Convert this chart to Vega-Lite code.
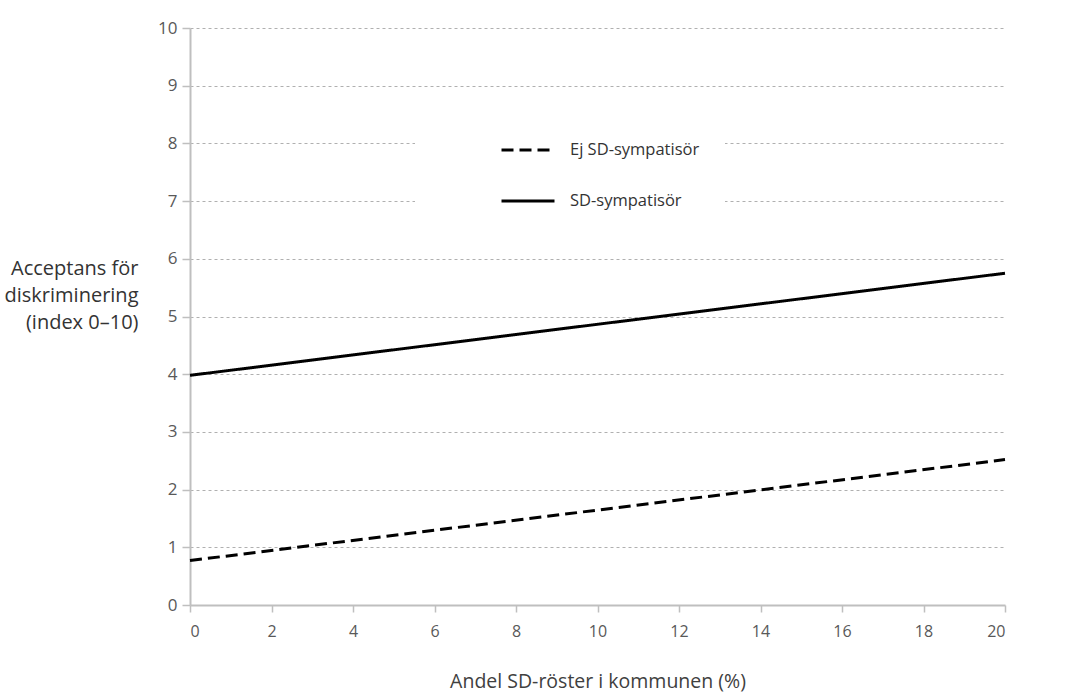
{
  "$schema": "https://vega.github.io/schema/vega-lite/v6.json",
  "width": 815,
  "height": 577,
  "autosize": {"type": "none"},
  "padding": {"left": 190, "top": 28, "right": 63, "bottom": 90},
  "background": "white",
  "config": {
    "view": {"stroke": null},
    "font": "Open Sans"
  },
  "data": {
    "values": [
      {"andel": 0, "acceptans": 0.77, "grupp": "Ej SD-sympatisör"},
      {"andel": 20, "acceptans": 2.52, "grupp": "Ej SD-sympatisör"},
      {"andel": 0, "acceptans": 3.98, "grupp": "SD-sympatisör"},
      {"andel": 20, "acceptans": 5.75, "grupp": "SD-sympatisör"}
    ]
  },
  "mark": {"type": "line", "color": "black", "strokeWidth": 3},
  "encoding": {
    "x": {
      "field": "andel",
      "type": "quantitative",
      "scale": {"domain": [0, 20], "nice": false},
      "axis": {
        "title": "Andel SD-röster i kommunen (%)",
        "values": [0, 2, 4, 6, 8, 10, 12, 14, 16, 18, 20],
        "grid": false,
        "domainColor": "#bfbfbf",
        "domainWidth": 2,
        "tickColor": "#bfbfbf",
        "tickWidth": 1.5,
        "tickSize": 7,
        "labelFontSize": 16,
        "labelColor": "#595959",
        "labelPadding": 11,
        "titleFontSize": 19.5,
        "titleFontWeight": "normal",
        "titleColor": "#404040",
        "titlePadding": 33
      }
    },
    "y": {
      "field": "acceptans",
      "type": "quantitative",
      "scale": {"domain": [0, 10], "nice": false},
      "axis": {
        "title": ["Acceptans för", "diskriminering", "(index 0–10)"],
        "values": [0, 1, 2, 3, 4, 5, 6, 7, 8, 9, 10],
        "grid": true,
        "gridColor": "#b0b0b0",
        "gridDash": [3, 3],
        "gridWidth": 1,
        "domainColor": "#bfbfbf",
        "domainWidth": 2,
        "tickColor": "#bfbfbf",
        "tickWidth": 1.5,
        "tickSize": 8,
        "labelFontSize": 17,
        "labelColor": "#595959",
        "labelPadding": 5,
        "titleAngle": 0,
        "titleAlign": "right",
        "titleBaseline": "alphabetic",
        "titleX": -52,
        "titleY": 246,
        "titleLineHeight": 27,
        "titleFontSize": 20,
        "titleFontWeight": "normal",
        "titleColor": "#333333"
      }
    },
    "strokeDash": {
      "field": "grupp",
      "type": "nominal",
      "scale": {"domain": ["Ej SD-sympatisör", "SD-sympatisör"], "range": [[12, 6], [1, 0]]},
      "legend": {
        "title": null,
        "orient": "none",
        "legendX": 225,
        "legendY": 69,
        "fillColor": "white",
        "padding": 25,
        "symbolType": "stroke",
        "symbolSize": 2809,
        "symbolStrokeWidth": 3,
        "symbolStrokeColor": "black",
        "symbolOffset": 60,
        "labelOffset": 14,
        "labelFontSize": 16.5,
        "labelColor": "#333333",
        "rowPadding": 14
      }
    }
  }
}
